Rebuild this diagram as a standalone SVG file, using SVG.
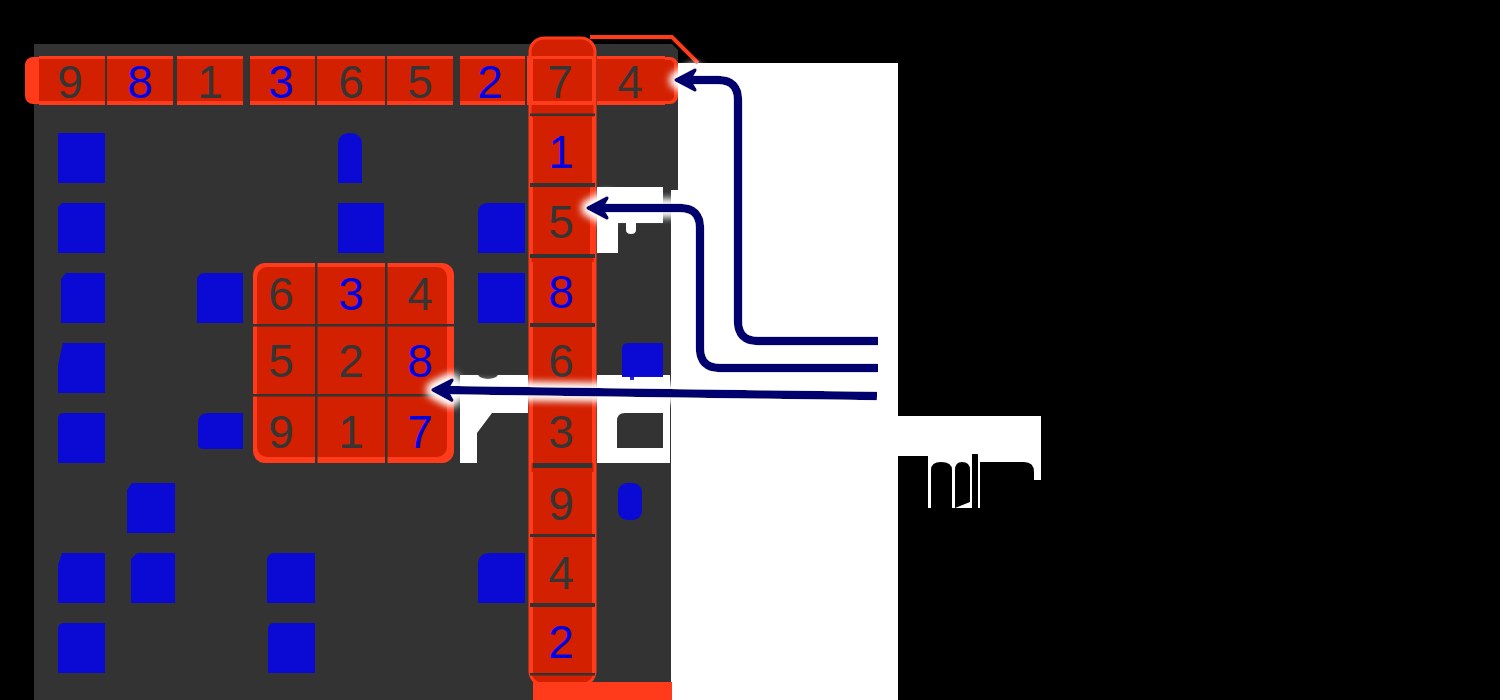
<svg xmlns="http://www.w3.org/2000/svg" width="1500" height="700" viewBox="0 0 1500 700">
<style>
.gr{fill:#333333}
.rl{fill:#ff3b1b}
.rd{fill:#d32000}
.bl{fill:#0a0ad4}
.wh{fill:#ffffff}
.bk{fill:#000000}
.d{font-family:"Liberation Sans",Arial,sans-serif;font-size:46px;text-anchor:middle;fill:#353535}
.b{fill:#0000e6}
.ln{fill:none;stroke:#00006e;stroke-width:8.5;stroke-linecap:butt;stroke-linejoin:round}
</style>
<defs>
<marker id="ah" viewBox="-24 -14 28 28" refX="-9" refY="0" markerWidth="28" markerHeight="28" markerUnits="userSpaceOnUse" orient="auto">
<path d="M0,0 L-19,-10 L-13,0 L-19,10 Z" fill="#00006e" stroke="#00006e" stroke-width="3.5" stroke-linejoin="round"/>
</marker>
<filter id="glow" filterUnits="userSpaceOnUse" x="0" y="0" width="1500" height="700">
<feMorphology in="SourceAlpha" operator="dilate" radius="3" result="d"/>
<feGaussianBlur in="d" stdDeviation="4" result="bb"/>
<feFlood flood-color="#ffffff"/>
<feComposite in2="bb" operator="in" result="g"/>
<feMerge><feMergeNode in="g"/><feMergeNode in="g"/><feMergeNode in="SourceGraphic"/></feMerge>
</filter>
</defs>
<rect x="0" y="0" width="1500" height="700" class="bk"/>
<rect x="671" y="63" width="227" height="637" class="wh"/>
<g id="board">
<path class="gr" d="M34,44 H672 L678,50 V190 H671 V700 H34 Z"/>
<path d="M590,37 H672 L698,63" fill="none" stroke="#ff3b1b" stroke-width="4"/>
</g>
<g id="white-patches">
<rect x="597" y="187" width="66" height="66" class="wh"/>
<path class="gr" d="M618,253 V223 H626 V230 Q626,234 631,234 Q636,234 636,230 V223 H663 V253 Z"/>
<rect x="460" y="375" width="68" height="88" class="wh"/>
<ellipse cx="488" cy="374" rx="10" ry="5" class="gr"/>
<path class="gr" d="M492,413 H528 V463 H477 V433 Z"/>
<rect x="597" y="375" width="73" height="88" class="wh"/>
<path class="gr" d="M625,413 H663 V448 H617 V421 Q617,413 625,413 Z"/>
</g>
<g id="column7">
<rect x="530" y="38" width="65" height="647" rx="14" class="rd" stroke="#ff3b1b" stroke-width="3"/>
<rect x="530" y="113.5" width="65" height="2.5" class="gr"/>
</g>
<g id="top-row">
<rect x="25" y="57" width="22" height="47" rx="8" class="rl"/>
<rect x="658" y="57" width="20" height="47" rx="8" class="rl"/>
<rect x="662" y="60" width="12" height="41" rx="5" class="rd"/>
<g id="r0c0"><rect x="39" y="56" width="66" height="49" class="rl"/><rect x="39" y="59" width="66" height="42" class="rd"/><text x="70" y="98" class="d">9</text></g>
<g id="r0c1"><rect x="107" y="56" width="66" height="49" class="rl"/><rect x="107" y="59" width="66" height="42" class="rd"/><text x="140" y="98" class="d b">8</text></g>
<g id="r0c2"><rect x="177" y="56" width="66" height="49" class="rl"/><rect x="177" y="59" width="66" height="42" class="rd"/><text x="210" y="98" class="d">1</text></g>
<g id="r0c3"><rect x="250" y="56" width="65" height="49" class="rl"/><rect x="250" y="59" width="65" height="42" class="rd"/><text x="281" y="98" class="d b">3</text></g>
<g id="r0c4"><rect x="317" y="56" width="68" height="49" class="rl"/><rect x="317" y="59" width="68" height="42" class="rd"/><text x="351" y="98" class="d">6</text></g>
<g id="r0c5"><rect x="387" y="56" width="66" height="49" class="rl"/><rect x="387" y="59" width="66" height="42" class="rd"/><text x="420" y="98" class="d">5</text></g>
<g id="r0c6"><rect x="460" y="56" width="65" height="49" class="rl"/><rect x="460" y="59" width="65" height="42" class="rd"/><text x="490" y="98" class="d b">2</text></g>
<g id="r0c7"><rect x="527" y="56" width="68" height="49" class="rl"/><rect x="533" y="59" width="59" height="42" class="rd"/><text x="560" y="98" class="d">7</text></g>
<g id="r0c8"><rect x="597" y="56" width="68" height="49" class="rl"/><rect x="597" y="59" width="68" height="42" class="rd"/><text x="630" y="98" class="d">4</text></g>
</g>
<g id="col7-cells">
<g id="r1c7"><rect x="530" y="117" width="65" height="66" class="rl"/><rect x="533" y="117" width="59" height="66" class="rd"/><text x="561" y="168" class="d b">1</text></g>
<rect x="530" y="183" width="65" height="4" class="gr"/>
<g id="r2c7"><rect x="530" y="187" width="65" height="67" class="rl"/><rect x="533" y="187" width="57" height="67" class="rd"/><text x="561" y="238" class="d">5</text></g>
<rect x="530" y="254" width="65" height="4" class="gr"/>
<g id="r3c7"><rect x="530" y="262" width="65" height="61" class="rl"/><rect x="533" y="262" width="59" height="61" class="rd"/><text x="561" y="308" class="d b">8</text></g>
<rect x="530" y="323" width="65" height="4" class="gr"/>
<g id="r4c7"><rect x="530" y="327" width="65" height="66" class="rl"/><rect x="533" y="327" width="59" height="66" class="rd"/><text x="561" y="377" class="d">6</text></g>
<rect x="530" y="393" width="65" height="4" class="gr"/>
<g id="r5c7"><rect x="530" y="397" width="65" height="66" class="rl"/><rect x="533" y="397" width="59" height="66" class="rd"/><text x="561" y="448" class="d">3</text></g>
<rect x="533" y="463" width="59" height="5" class="gr"/>
<g id="r6c7"><rect x="530" y="472" width="65" height="62" class="rl"/><rect x="533" y="472" width="59" height="62" class="rd"/><text x="561" y="520" class="d">9</text></g>
<rect x="530" y="534" width="65" height="3" class="gr"/>
<g id="r7c7"><rect x="530" y="537" width="65" height="66" class="rl"/><rect x="533" y="537" width="59" height="66" class="rd"/><text x="561" y="589" class="d">4</text></g>
<rect x="530" y="603" width="65" height="4" class="gr"/>
<g id="r8c7"><rect x="530" y="607" width="65" height="66" class="rl"/><rect x="533" y="607" width="59" height="66" class="rd"/><text x="561" y="658" class="d b">2</text></g>
<rect x="530" y="673" width="65" height="2.5" class="gr"/>
<rect x="533" y="682" width="139" height="18" class="rl"/>
</g>
<g id="box">
<rect x="253" y="263" width="201" height="200" rx="12" class="rl"/>
<rect x="257" y="267" width="190" height="190" rx="10" class="rd"/>
<rect x="315" y="263" width="2.5" height="200" class="gr"/>
<rect x="385" y="263" width="2.5" height="200" class="gr"/>
<rect x="253" y="324" width="201" height="2.5" class="gr"/>
<rect x="253" y="394" width="201" height="2.5" class="gr"/>
<g id="r3c3"><text x="281" y="310" class="d">6</text></g>
<g id="r3c4"><text x="351" y="310" class="d b">3</text></g>
<g id="r3c5"><text x="420" y="310" class="d">4</text></g>
<g id="r4c3"><text x="281" y="377" class="d">5</text></g>
<g id="r4c4"><text x="351" y="377" class="d">2</text></g>
<g id="r4c5"><text x="420" y="377" class="d b">8</text></g>
<g id="r5c3"><text x="281" y="448" class="d">9</text></g>
<g id="r5c4"><text x="351" y="448" class="d">1</text></g>
<g id="r5c5"><text x="420" y="448" class="d b">7</text></g>
</g>
<g id="blue-blocks">
<rect x="58" y="133" width="47" height="50" class="bl"/>
<path class="bl" d="M338,183 V145 Q338,133 350,133 Q362,133 362,145 V183 Z"/>
<path class="bl" d="M62,203 H105 V253 H58 V207 Z"/>
<rect x="338" y="203" width="46" height="50" class="bl"/>
<path class="bl" d="M488,203 H525 V253 H478 V213 Q478,203 488,203 Z"/>
<path class="bl" d="M66,273 H105 V323 H61 V279 Z"/>
<path class="bl" d="M205,273 H243 V323 H197 V281 Q197,273 205,273 Z"/>
<rect x="478" y="273" width="47" height="50" class="bl"/>
<path class="bl" d="M63,343 H105 V393 H58 V365 Z"/>
<path class="bl" d="M628,343 H663 V377 H634 V380 H630 V377 H622 V349 Q622,343 628,343 Z"/>
<path class="bl" d="M64,413 H105 V463 H58 V419 Q58,413 64,413 Z"/>
<path class="bl" d="M208,413 H243 V449 H203 Q198,449 198,444 V423 Q198,413 208,413 Z"/>
<path class="bl" d="M132,483 H175 V533 H127 V490 Z"/>
<rect x="618" y="483" width="24" height="37" rx="9" class="bl"/>
<path class="bl" d="M62,553 H105 V603 H58 V565 Z"/>
<path class="bl" d="M137,553 H175 V603 H131 V559 Z"/>
<path class="bl" d="M275,553 H315 V603 H267 V561 Q267,553 275,553 Z"/>
<path class="bl" d="M490,553 H525 V603 H478 V565 Q478,553 490,553 Z"/>
<path class="bl" d="M64,623 H105 V673 H58 V629 Q58,623 64,623 Z"/>
<path class="bl" d="M274,623 H315 V673 H268 V629 Q268,623 274,623 Z"/>
</g>
<g id="label-fragment">
<rect x="898" y="416" width="143" height="92" class="wh"/>
<rect x="898" y="456" width="30" height="52" class="bk"/>
<path class="bk" d="M931,508 V470 Q931,462 941,462 Q952,462 952,470 V508 Z"/>
<path class="bk" d="M955,508 V470 Q955,462 962,462 Q970,462 970,470 V502 Z"/>
<rect x="972" y="454" width="6" height="54" class="bk"/>
<path class="bk" d="M980,508 V462 H1024 Q1034,462 1034,472 V480 H1041 V508 Z"/>
</g>
<g id="connectors" filter="url(#glow)">
<path class="ln" d="M878,341 H758 Q738,341 738,321 V100 Q738,80 718,80 H685" marker-end="url(#ah)"/>
<path class="ln" d="M878,368 H720 Q700,368 700,348 V228 Q700,208 680,208 H597" marker-end="url(#ah)"/>
<path class="ln" d="M877,396 L442,390" marker-end="url(#ah)"/>
</g>
</svg>
